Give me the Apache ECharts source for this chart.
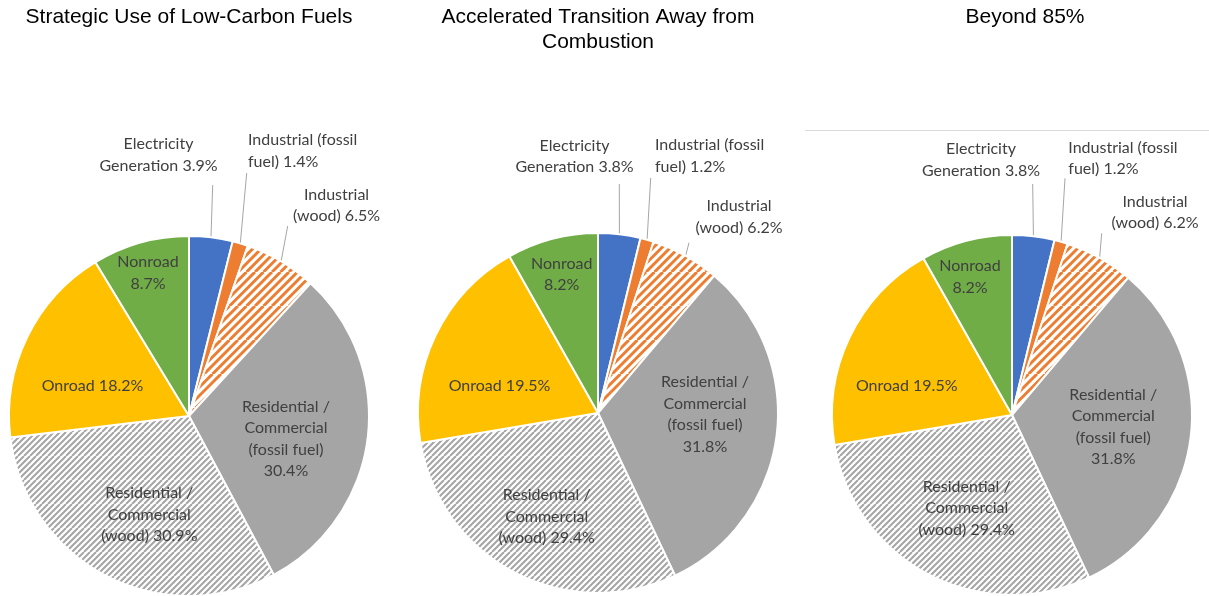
<!DOCTYPE html>
<html>
<head>
<meta charset="utf-8">
<title>Emission shares by sector</title>
<script src="https://cdn.jsdelivr.net/npm/echarts@6/dist/echarts.min.js"></script>
<style>
  html, body { margin: 0; padding: 0; background: #fff; }
  #chart { width: 1209px; height: 596px; }
</style>
</head>
<body>
<div id="chart"></div>
<script>
// sectors, clockwise from 12 o'clock
const categories = [
  'Electricity Generation',
  'Industrial (fossil fuel)',
  'Industrial (wood)',
  'Residential / Commercial (fossil fuel)',
  'Residential / Commercial (wood)',
  'Onroad',
  'Nonroad'
];
// how each label is broken into lines (value is appended)
const labelTexts = [
  'Electricity\nGeneration ',
  'Industrial (fossil\nfuel) ',
  'Industrial\n(wood) ',
  'Residential /\nCommercial\n(fossil fuel)\n',
  'Residential /\nCommercial\n(wood) ',
  'Onroad ',
  'Nonroad\n'
];
const scenarioTitles = [
  'Strategic Use of Low-Carbon Fuels',
  'Accelerated Transition Away from\nCombustion',
  'Beyond 85%'
];
// percent shares
const lowCarbonFuels = [3.9, 1.4, 6.5, 30.4, 30.9, 18.2, 8.7];
const acceleratedTransition = [3.8, 1.2, 6.2, 31.8, 29.4, 19.5, 8.2];
const beyond85 = [3.8, 1.2, 6.2, 31.8, 29.4, 19.5, 8.2];
const scenarioValues = [lowCarbonFuels, acceleratedTransition, beyond85];

// layout (px)
const pieCenters = [[189, 416], [598, 413], [1012, 415]];
const pieRadius = 180;
const titleX = [189, 598, 1025];
// label anchor offsets from each pie centre
const labelOffsets = [
  [[-30.5, -261], [59, -265], [147.5, -210.5], [97, 22.7], [-39.7, 98.7], [-96.5, -30], [-41, -143]],
  [[-23.5, -256.7], [57, -257.2], [141, -196.3], [107, 1.5], [-51.3, 103.7], [-98.5, -27], [-36.3, -138.5]],
  [[-31, -255.3], [56.3, -256.7], [143, -202.5], [101.3, 12], [-45.3, 93.3], [-105.3, -29], [-42, -138]]
];
// where the leader lines stop (first three slices only)
const leaderEnds = [
  [[23.7, -231], [57.7, -243], [98.7, -190]],
  [[21.3, -229], [52.7, -235], [91, -170.3]],
  [[20.7, -231], [53, -236.7], [89.7, -181.7]]
];
const labelAligns = ['center', 'left', 'center', 'center', 'center', 'center', 'center'];
const outsideLabel = [true, true, true, false, false, false, false];

// "/" hatch tile, a few periods wide so the seams don't show
function stripes(color, period, width) {
  const n = 4;
  const size = period * n;
  const c = document.createElement('canvas');
  c.width = c.height = size;
  const ctx = c.getContext('2d');
  ctx.fillStyle = '#fff';
  ctx.fillRect(0, 0, size, size);
  ctx.strokeStyle = color;
  ctx.lineWidth = width;
  ctx.beginPath();
  for (let k = -n; k <= n; k++) {
    ctx.moveTo(k * period, size);
    ctx.lineTo(k * period + size, 0);
  }
  ctx.stroke();
  return c;
}

const sliceColors = [
  '#4472C4',
  '#ED7D31',
  { image: stripes('#ED7D31', 8.5, 3), repeat: 'repeat' },
  '#A5A5A5',
  { image: stripes('#A5A5A5', 6, 2), repeat: 'repeat' },
  '#FFC000',
  '#70AD47'
];

const chart = echarts.init(document.getElementById('chart'));

function makeSeries(s) {
  const c = pieCenters[s];
  return {
    type: 'pie',
    name: scenarioTitles[s],
    center: c,
    radius: pieRadius,
    startAngle: 90,
    clockwise: true,
    avoidLabelOverlap: false,
    emphasis: { disabled: true },
    itemStyle: { borderColor: '#fff', borderWidth: 2 },
    label: {
      fontFamily: 'Lato',
      fontSize: 16,
      lineHeight: 21.5,
      color: '#404040'
    },
    labelLine: {
      length: 10,
      length2: 0,
      lineStyle: { color: '#A6A6A6', width: 1 }
    },
    data: scenarioValues[s].map((v, i) => ({
      name: categories[i],
      value: v,
      itemStyle: { color: sliceColors[i] },
      label: {
        position: outsideLabel[i] ? 'outside' : 'inside',
        formatter: labelTexts[i] + v.toFixed(1) + '%'
      },
      labelLine: { show: outsideLabel[i] }
    })),
    labelLayout: function (params) {
      const i = params.dataIndex;
      const off = labelOffsets[s][i];
      const res = {
        x: c[0] + off[0],
        y: c[1] + off[1],
        align: labelAligns[i],
        verticalAlign: 'middle',
        hideOverlap: false,
        moveOverlap: false
      };
      if (outsideLabel[i] && params.labelLinePoints) {
        const start = params.labelLinePoints[0];
        const end = [c[0] + leaderEnds[s][i][0], c[1] + leaderEnds[s][i][1]];
        res.labelLinePoints = [start, end, end];
      }
      return res;
    }
  };
}

const option = {
  animation: false,
  backgroundColor: '#fff',
  title: scenarioTitles.map((t, s) => ({
    text: t,
    left: titleX[s],
    top: 5,
    padding: 0,
    textAlign: 'center',
    textStyle: {
      fontFamily: 'Liberation Sans',
      fontSize: 21,
      fontWeight: 'normal',
      color: '#000',
      lineHeight: 24.5
    }
  })),
  graphic: [{
    type: 'line',
    shape: { x1: 805, y1: 130.5, x2: 1209, y2: 130.5 },
    style: { stroke: '#D9D9D9', lineWidth: 1 },
    silent: true
  }],
  series: [0, 1, 2].map(makeSeries)
};

chart.setOption(option);
</script>
</body>
</html>
